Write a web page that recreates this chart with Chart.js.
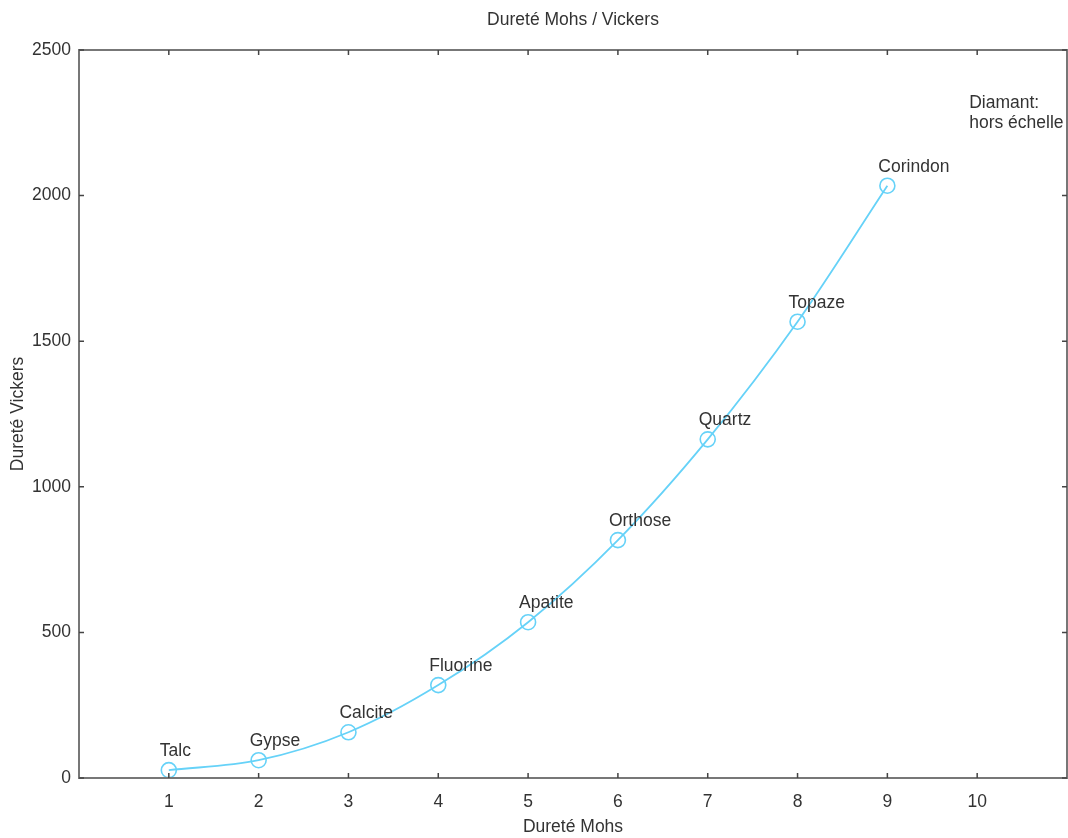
<!DOCTYPE html>
<html>
<head>
<meta charset="utf-8">
<title>Dureté Mohs / Vickers</title>
<script src="https://cdn.jsdelivr.net/npm/chart.js@4/dist/chart.umd.min.js"></script>
<style>
  html, body { margin: 0; padding: 0; background: #fff; }
  canvas { display: block; }
</style>
</head>
<body>
<canvas id="mohsVickersChart" width="1068" height="838"></canvas>
<script>
// donnees
var mineraux = ['Talc', 'Gypse', 'Calcite', 'Fluorine', 'Apatite', 'Orthose', 'Quartz', 'Topaze', 'Corindon'];
var dureteMohs = [1, 2, 3, 4, 5, 6, 7, 8, 9];
var dureteVickers = [27, 61, 157, 319, 535, 817, 1163, 1567, 2034];
var ticksMohs = [1, 2, 3, 4, 5, 6, 7, 8, 9, 10];
var ticksVickers = [0, 500, 1000, 1500, 2000, 2500];
var noteDiamant = ['Diamant:', 'hors échelle'];
var noteMohs = 10;
var noteVickers = 2300;

var police = 'Liberation Sans, Arial, sans-serif';
var taille = 17.5;
var bleu = '#66d2f8';
var gris = '#777';
var texte = '#333';

// etiquettes, cadre et graduations interieures
var habillage = {
  id: 'habillage',
  afterDatasetsDraw: function (chart) {
    var ctx = chart.ctx;
    var a = chart.chartArea;
    var sx = chart.scales.x;
    var sy = chart.scales.y;

    ctx.save();
    ctx.strokeStyle = gris;
    ctx.lineWidth = 2;
    ctx.strokeRect(a.left, a.top, a.right - a.left, a.bottom - a.top);

    ctx.strokeStyle = '#444';
    ctx.lineWidth = 1.5;
    ctx.beginPath();
    ticksMohs.forEach(function (v) {
      var px = sx.getPixelForValue(v);
      ctx.moveTo(px, a.bottom); ctx.lineTo(px, a.bottom - 5);
      ctx.moveTo(px, a.top); ctx.lineTo(px, a.top + 5);
    });
    ticksVickers.forEach(function (v) {
      var py = sy.getPixelForValue(v);
      ctx.moveTo(a.left, py); ctx.lineTo(a.left + 5, py);
      ctx.moveTo(a.right, py); ctx.lineTo(a.right - 5, py);
    });
    ctx.stroke();

    ctx.fillStyle = texte;
    ctx.font = taille + 'px ' + police;
    ctx.textAlign = 'left';
    ctx.textBaseline = 'alphabetic';
    var meta = chart.getDatasetMeta(0);
    meta.data.forEach(function (pt, i) {
      ctx.fillText(mineraux[i], pt.x - 9, pt.y - 14);
    });

    var nx = sx.getPixelForValue(noteMohs) - 8;
    var ny = sy.getPixelForValue(noteVickers);
    noteDiamant.forEach(function (ligne, i) {
      ctx.fillText(ligne, nx, ny + i * 20);
    });
    ctx.restore();
  }
};

var donnees = dureteMohs.map(function (m, i) {
  return { x: m, y: dureteVickers[i] };
});

new Chart(document.getElementById('mohsVickersChart').getContext('2d'), {
  type: 'scatter',
  data: {
    datasets: [{
      label: 'Dureté Vickers',
      data: donnees,
      showLine: true,
      cubicInterpolationMode: 'monotone',
      borderColor: bleu,
      borderWidth: 1.8,
      backgroundColor: 'rgba(0,0,0,0)',
      pointRadius: 7.5,
      pointBorderWidth: 1.6,
      pointBorderColor: bleu,
      pointBackgroundColor: 'rgba(0,0,0,0)',
      clip: false
    }]
  },
  options: {
    responsive: false,
    animation: false,
    // sinon Chart.js reserve la taille des cercles sur les bords
    layout: { autoPadding: false, padding: { right: 1 } },
    plugins: {
      legend: { display: false },
      tooltip: { enabled: false },
      title: {
        display: true,
        text: 'Dureté Mohs / Vickers',
        fullSize: false,
        color: texte,
        font: { family: police, size: taille, weight: 'normal' },
        padding: { top: 10, bottom: 19 }
      }
    },
    scales: {
      x: {
        type: 'linear',
        min: 0,
        max: 11,
        afterFit: function (s) { s.height = 60; },
        afterBuildTicks: function (s) {
          s.ticks = ticksMohs.map(function (v) { return { value: v }; });
        },
        grid: { display: false, drawTicks: false },
        border: { display: false },
        ticks: {
          color: texte,
          padding: 14,
          maxRotation: 0,
          font: { family: police, size: taille },
          callback: function (v) { return String(v); }
        },
        title: {
          display: true,
          text: 'Dureté Mohs',
          color: texte,
          font: { family: police, size: taille },
          padding: 0
        }
      },
      y: {
        type: 'linear',
        min: 0,
        max: 2500,
        afterFit: function (s) { s.width = 79; },
        afterBuildTicks: function (s) {
          s.ticks = ticksVickers.map(function (v) { return { value: v }; });
        },
        grid: { display: false, drawTicks: false },
        border: { display: false },
        ticks: {
          color: texte,
          padding: 8,
          font: { family: police, size: taille },
          callback: function (v) { return String(v); }
        },
        title: {
          display: true,
          text: 'Dureté Vickers',
          color: texte,
          font: { family: police, size: taille },
          padding: { top: 8, bottom: 8 }
        }
      }
    }
  },
  plugins: [habillage]
});
</script>
</body>
</html>
